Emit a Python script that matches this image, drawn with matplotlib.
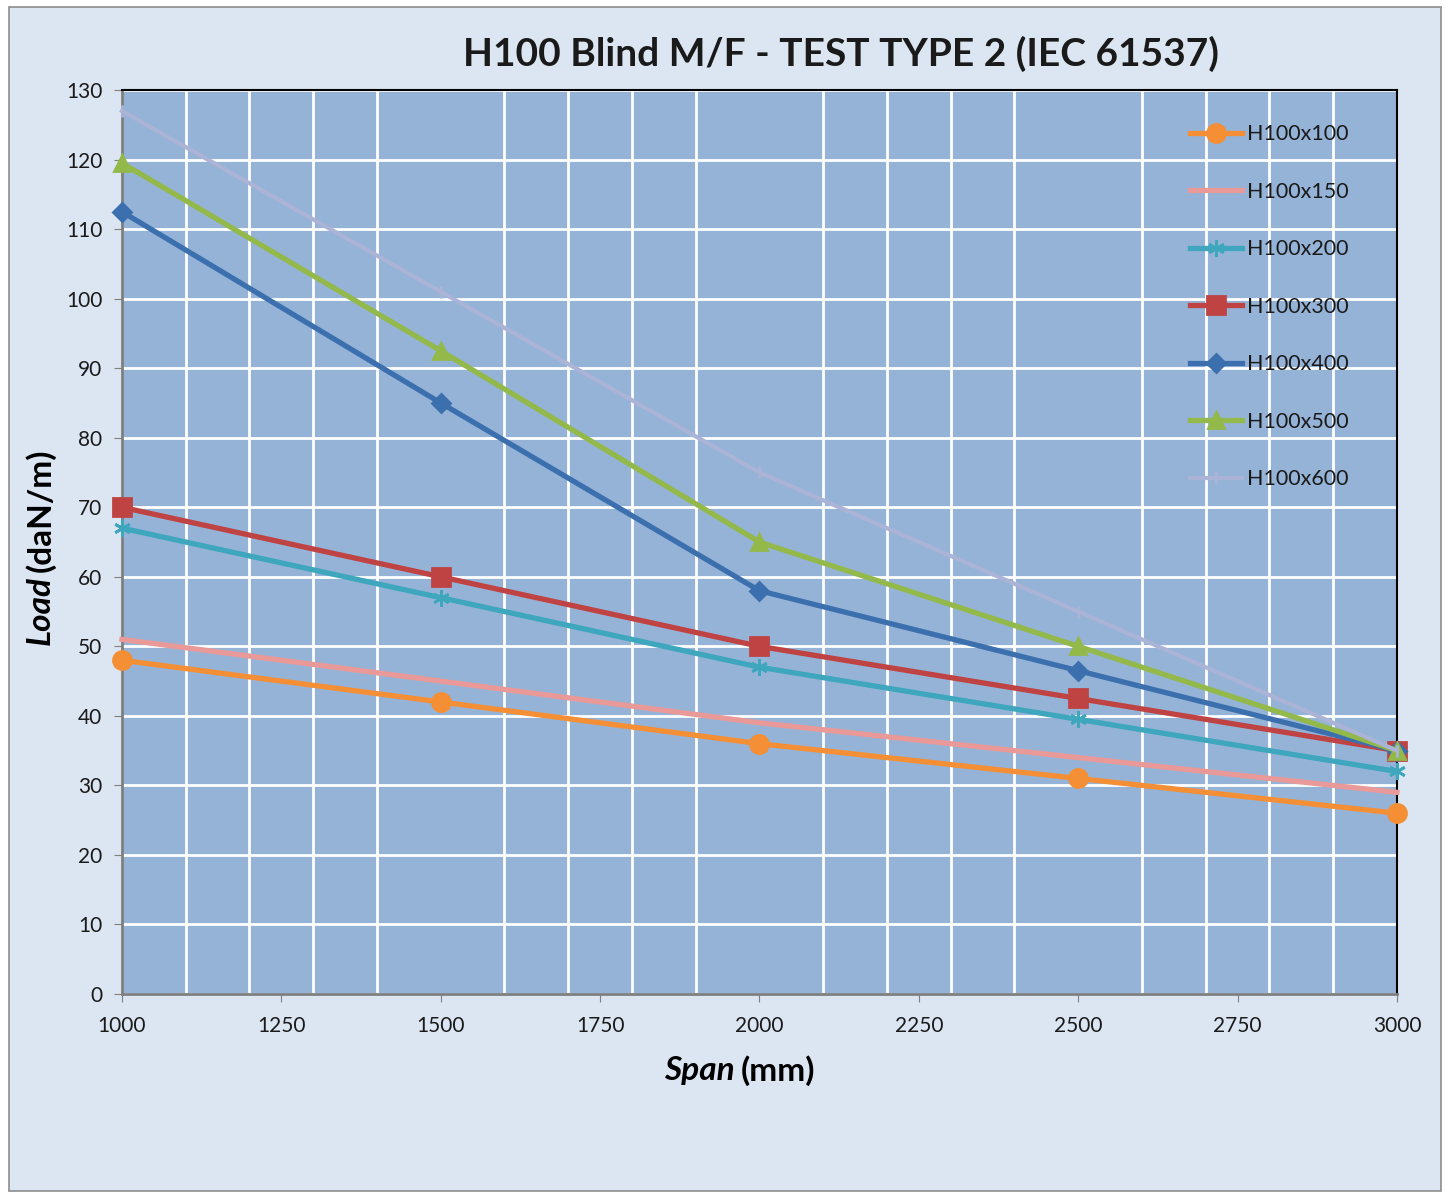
import numpy as np
import matplotlib
matplotlib.use("Agg")
import matplotlib.pyplot as plt
from matplotlib.patches import Rectangle
from matplotlib.ticker import MultipleLocator

# data
span = [1000, 1500, 2000, 2500, 3000]
h100 = [48, 42, 36, 31, 26]
h150 = [51, 45, 39, 34, 29]
h200 = [67, 57, 47, 39.5, 32]
h300 = [70, 60, 50, 42.5, 35]
h400 = [112.5, 85, 58, 46.5, 35]
h500 = [119.5, 92.5, 65, 50, 35]
h600 = [127, 101, 75, 55, 35]

names = ['H100x100', 'H100x150', 'H100x200', 'H100x300', 'H100x400', 'H100x500', 'H100x600']
series = [h100, h150, h200, h300, h400, h500, h600]
colors = ['#f58f35', '#e99a98', '#3ea6bd', '#bf4342', '#3c6fae', '#93b94a', '#abb3d6']
markers = ['o', None, (6, 2, 0), 's', 'D', '^', '|']
msizes = [13, 0, 12, 13, 9, 12, 8]
lws = [3.8, 3.8, 3.8, 3.8, 3.8, 3.8, 3.0]

plt.rcParams['font.family'] = ['Lato', 'DejaVu Sans']

fig = plt.figure(figsize=(14.5, 11.96), dpi=100)
fig.patch.set_facecolor('white')
fig.add_artist(Rectangle((0.006, 0.004), 0.988, 0.99, transform=fig.transFigure,
                         facecolor='#dce6f2', edgecolor='#8c8c8c', lw=1.2, zorder=0))

ax = fig.add_axes([0.0841, 0.1689, 0.8793, 0.7558])
ax.set_facecolor('#95b3d7')

for name, s, c, m, ms, lw in zip(names, series, colors, markers, msizes, lws):
    ax.plot(span, s, color=c, lw=lw, marker=m, markersize=ms,
            markeredgecolor=c, markerfacecolor=c, markeredgewidth=2, label=name,
            clip_on=False, zorder=3)

ax.set_xlim(1000, 3000)
ax.set_ylim(0, 130)
ax.xaxis.set_major_locator(MultipleLocator(250))
ax.xaxis.set_minor_locator(MultipleLocator(100))
ax.yaxis.set_major_locator(MultipleLocator(10))
ax.grid(which='minor', axis='x', color='white', lw=2)
ax.grid(which='major', axis='y', color='white', lw=2)
ax.set_axisbelow(True)
ax.tick_params(axis='x', which='minor', length=0)
ax.tick_params(axis='both', which='major', direction='out', length=6, color='#7f7f7f',
               labelsize=15, colors='#1a1a1a')
ax.tick_params(axis='x', pad=10)
ax.tick_params(axis='y', pad=8)

for side in ['left', 'bottom']:
    ax.spines[side].set_color('#7f7f7f')
    ax.spines[side].set_linewidth(2)
for side in ['top', 'right']:
    ax.spines[side].set_color('black')
    ax.spines[side].set_linewidth(1.5)

leg = ax.legend(loc='upper left', bbox_to_anchor=(0.838, 0.962), frameon=False,
                fontsize=15.5, labelspacing=1.74, handlelength=2.4, handletextpad=0.25,
                borderaxespad=0, borderpad=0)
for t in leg.get_texts():
    t.set_color('#1a1a1a')

fig.text(0.58, 0.955, 'H100 Blind M/F - TEST TYPE 2 (IEC 61537)', ha='center', va='center',
         fontsize=28, fontweight='bold', color='#1a1a1a')

# axis titles: italic word + upright unit
fig.text(0.507, 0.105, 'Span', ha='right', va='center', fontsize=24,
         fontweight='bold', style='italic', color='black')
fig.text(0.511, 0.105, '(mm)', ha='left', va='center', fontsize=24,
         fontweight='bold', color='black')
fig.text(0.028, 0.518, 'Load', ha='center', va='top', rotation=90, fontsize=24,
         fontweight='bold', style='italic', color='black')
fig.text(0.028, 0.522, '(daN/m)', ha='center', va='bottom', rotation=90, fontsize=24,
         fontweight='bold', color='black')

fig.savefig('out.png', dpi=100, facecolor=fig.get_facecolor())
